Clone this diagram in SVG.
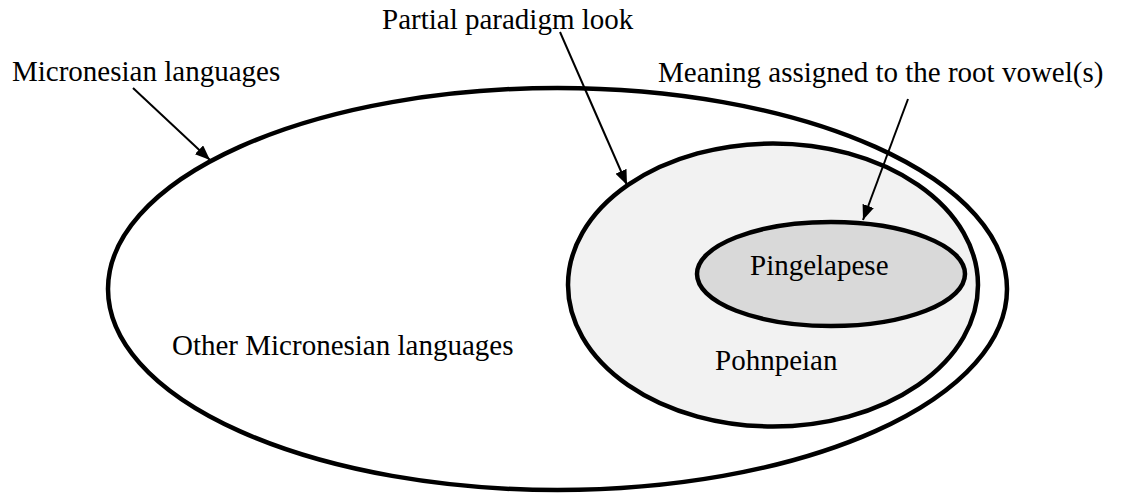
<svg xmlns="http://www.w3.org/2000/svg" width="1121" height="495" viewBox="0 0 1121 495">
  <style>
    .set { stroke: #000; stroke-width: 4.5; }
    .lbl { font-family: "Liberation Serif", "Times New Roman", serif; font-size: 29px; fill: #000; }
    .ptr { stroke: #000; stroke-width: 2; fill: none; marker-end: url(#head); }
  </style>
  <defs>
    <marker id="head" markerUnits="userSpaceOnUse" markerWidth="16" markerHeight="12" refX="15" refY="6" orient="auto">
      <path d="M0,0 L15,6 L0,12 Z" fill="#000"/>
    </marker>
  </defs>
  <rect width="1121" height="495" fill="#fff"/>

  <!-- Micronesian languages (outer set) -->
  <g id="micronesian">
    <ellipse class="set" cx="557.5" cy="289" rx="449.5" ry="201" fill="#fff"/>
    <text class="lbl" x="172" y="355">Other Micronesian languages</text>
  </g>

  <!-- Pohnpeian -->
  <g id="pohnpeian">
    <ellipse class="set" cx="773" cy="285" rx="205" ry="141.5" fill="#f2f2f2"/>
    <text class="lbl" x="715" y="370">Pohnpeian</text>
  </g>

  <!-- Pingelapese -->
  <g id="pingelapese">
    <ellipse class="set" cx="831" cy="274" rx="134" ry="52" fill="#d9d9d9"/>
    <text class="lbl" x="750" y="275">Pingelapese</text>
  </g>

  <!-- callout labels -->
  <g id="labels">
    <text class="lbl" x="12" y="81">Micronesian languages</text>
    <text class="lbl" x="382" y="29">Partial paradigm look</text>
    <text class="lbl" x="658" y="82">Meaning assigned to the root vowel(s)</text>
  </g>

  <!-- pointers from labels to set boundaries -->
  <g id="connectors">
    <line class="ptr" x1="133" y1="88" x2="210" y2="160"/>
    <line class="ptr" x1="560" y1="32" x2="627" y2="185"/>
    <line class="ptr" x1="908" y1="99" x2="863" y2="220"/>
  </g>
</svg>
